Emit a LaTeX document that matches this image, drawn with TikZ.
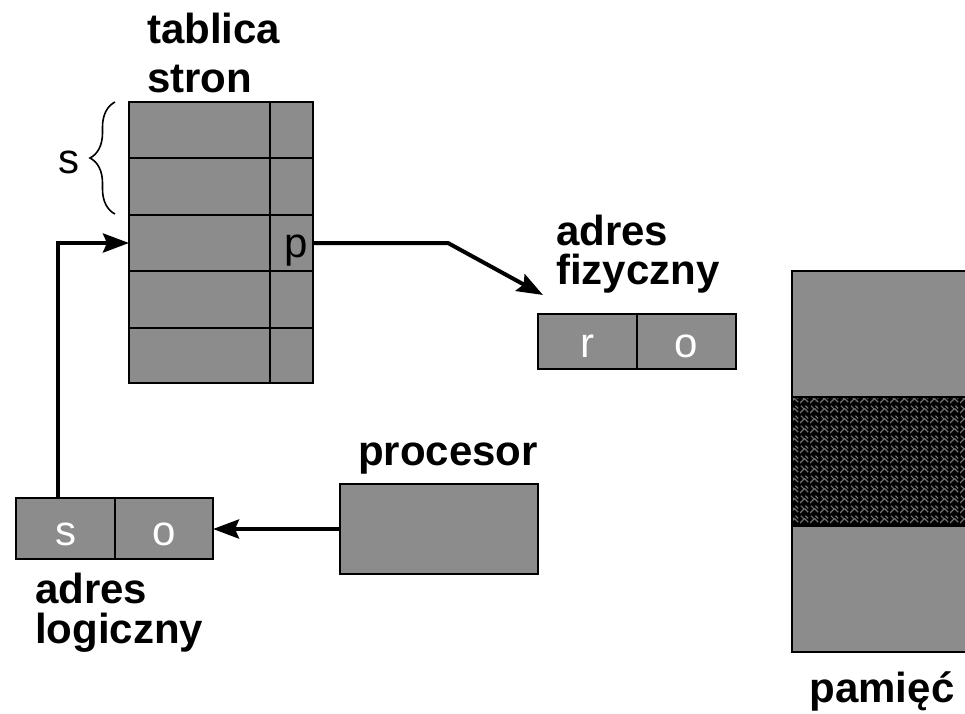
\documentclass[tikz,border=0pt]{standalone}
\usepackage{fontspec}
\setmainfont{Liberation Sans}
\usetikzlibrary{arrows.meta,decorations.pathreplacing,patterns}
\definecolor{boxgray}{RGB}{140,140,140}
\pgfdeclarepatternformonly{weave}{\pgfpointorigin}{\pgfqpoint{10pt}{10pt}}{\pgfqpoint{10pt}{10pt}}{%
  \pgfsetlinewidth{1.3pt}%
  \pgfpathmoveto{\pgfqpoint{0pt}{1pt}}\pgfpathlineto{\pgfqpoint{5pt}{6pt}}%
  \pgfpathmoveto{\pgfqpoint{5pt}{6pt}}\pgfpathlineto{\pgfqpoint{9pt}{2pt}}%
  \pgfpathmoveto{\pgfqpoint{1pt}{9pt}}\pgfpathlineto{\pgfqpoint{4pt}{6pt}}%
  \pgfpathmoveto{\pgfqpoint{6pt}{9pt}}\pgfpathlineto{\pgfqpoint{9pt}{6pt}}%
  \pgfusepath{stroke}}
\tikzset{
  cell/.style={draw=black,line width=2.2pt,fill=boxgray},
  lbl/.style={font=\fontsize{42}{42}\selectfont\bfseries,inner sep=0pt,anchor=base west},
  reg/.style={font=\fontsize{42}{42}\selectfont,inner sep=0pt},
  wht/.style={font=\fontsize{42}{42}\selectfont,inner sep=0pt,text=white},
  arr/.style={line width=4pt,-{Stealth[length=26pt,width=19pt,inset=4pt]}}
}
\begin{document}
\begin{tikzpicture}[x=1pt,y=-1pt]
\useasboundingbox (0,0) rectangle (965,713);
% page table
\foreach \a/\b [count=\i] in {102/158,158/215,215/271,271/328,328/383}{
  \draw[cell] (129,\a) rectangle (270,\b);
  \draw[cell] (270,\a) rectangle (313,\b);
}
\coordinate (rowin) at (129,243);
\coordinate (rowout) at (313,243);
\node[lbl] (t1) at (147,43) {tablica};
\node[lbl] (t2) at (147,92) {stron};
% brace
\draw[line width=1.6pt,decorate,decoration={brace,amplitude=25pt,aspect=0.5}] (115,214) -- (115,102);
\node[reg,anchor=base] (slab) at (69,173) {s};
\node[reg,anchor=base] (plab) at (296,257) {p};
% physical address
\draw[cell] (538,314) rectangle (637,369);
\draw[cell] (637,314) rectangle (736,369);
\node[wht] (r) at (587.5,346) {r};
\node[wht] (o1) at (686.5,346) {o};
\coordinate (fiztip) at (543,295);
\node[lbl] (f1) at (556,245) {adres};
\node[lbl] (f2) at (556,284) {fizyczny};
% logical address
\draw[cell] (16,498) rectangle (115,559);
\draw[cell] (115,498) rectangle (213,559);
\node[wht] (s) at (65.5,534) {s};
\node[wht] (o2) at (164,534) {o};
\coordinate (logtop) at (58,498);
\coordinate (logright) at (213,529);
\node[lbl] (l1) at (35,603) {adres};
\node[lbl] (l2) at (35,643) {logiczny};
% processor
\draw[cell] (340,484) rectangle (538,574);
\coordinate (procleft) at (340,529);
\node[lbl] (pr) at (358,465) {procesor};
% memory
\draw[cell] (792,271) rectangle (975,397);
\fill[black] (792,397) rectangle (975,526);
\fill[pattern=weave,pattern color=boxgray!80!black] (792,397) rectangle (975,526);
\draw[line width=2.2pt] (792,397) rectangle (975,526);
\draw[cell] (792,526) rectangle (975,652);
\node[lbl,anchor=base] (mem) at (882,702) {pamięć};
% connectors
\draw[arr] (logtop) -- (58,243) -- (rowin);
\draw[arr] (rowout) -- (448,243) -- (fiztip);
\draw[arr] (procleft) -- (logright);
\end{tikzpicture}
\end{document}
